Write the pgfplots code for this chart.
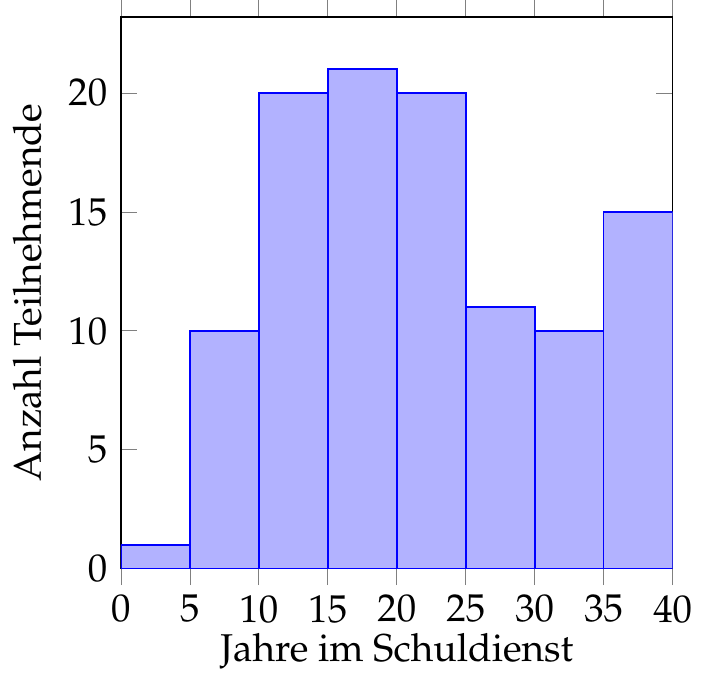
\documentclass[border=0pt]{standalone}
\usepackage[T1]{fontenc}
\usepackage{mathpazo}
\usepackage{pgfplots}
\pgfplotsset{compat=1.18}

\begin{document}
\begin{tikzpicture}
\begin{axis}[
    width=5cm, height=5cm,
    scale only axis,
    xmin=0, xmax=40,
    ymin=0, ymax=23.2,
    xtick={0,5,...,40},
    ytick={0,5,10,15,20},
    xtick align=outside,
    x tick style={gray},
    y tick style={gray},
    xticklabel style={yshift=1pt},
    xlabel={Jahre im Schuldienst},
    xlabel style={yshift=4pt},
    ylabel={Anzahl Teilnehmende},
]
\addplot[ybar interval, fill=blue!30, draw=blue]
coordinates {
    (0,1) (5,10) (10,20) (15,21) (20,20) (25,11) (30,10) (35,15) (40,15)
};
\end{axis}
\end{tikzpicture}
\end{document}
